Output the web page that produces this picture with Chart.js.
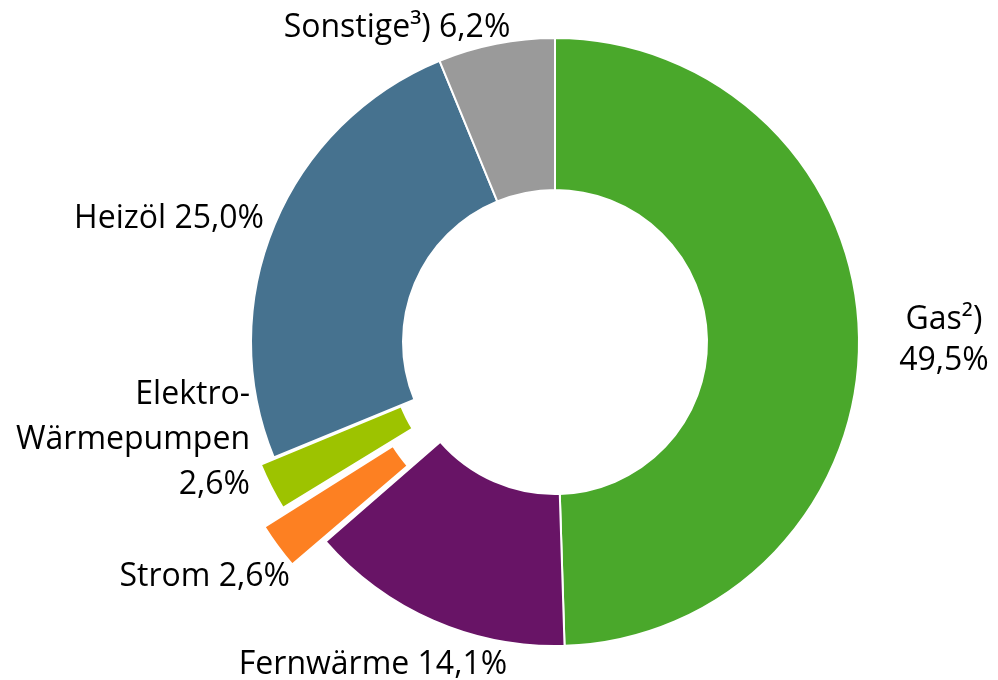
<!DOCTYPE html>
<html>
<head>
<meta charset="utf-8">
<script src="https://cdn.jsdelivr.net/npm/chart.js@4"></script>
<style>
    body { margin: 0; background: #ffffff; }
    #wrap { width: 998px; height: 680px; }
</style>
</head>
<body>
<div id="wrap"><canvas id="heatingChart" width="998" height="680"></canvas></div>
<script>
const categories = ['Gas²)', 'Fernwärme', 'Strom', 'Elektro-\nWärmepumpen', 'Heizöl', 'Sonstige³)'];
const shares = [49.5, 14.1, 2.6, 2.6, 25.0, 6.2];
const sliceColors = ['#4aa82b', '#681466', '#fd8022', '#9dc300', '#46728f', '#9a9a9a'];
const explode = [0, 0, 88, 32, 0, 0];
const valueOnNewLine = [true, false, false, true, false, false];

// where each label sits: x, first baseline, alignment, line step
const labelSpots = [
    { x: 944, y: 329, align: 'center', step: 41 },
    { x: 373, y: 674, align: 'center', step: 44 },
    { x: 290, y: 586, align: 'right', step: 44 },
    { x: 250, y: 404, align: 'right', step: 45 },
    { x: 264, y: 228, align: 'right', step: 44 },
    { x: 397, y: 37, align: 'center', step: 44 }
];

function formatShare(v) {
    return v.toFixed(1).replace('.', ',') + '%';
}

const outsideLabels = {
    id: 'outsideLabels',
    afterDatasetsDraw(chart) {
        const ctx = chart.ctx;
        ctx.save();
        ctx.fillStyle = '#000000';
        ctx.font = '32px "Open Sans"';
        ctx.textBaseline = 'alphabetic';
        categories.forEach((name, i) => {
            const spot = labelSpots[i];
            let lines = name.split('\n');
            if (valueOnNewLine[i]) {
                lines.push(formatShare(shares[i]));
            } else {
                lines[lines.length - 1] += ' ' + formatShare(shares[i]);
            }
            ctx.textAlign = spot.align;
            lines.forEach((line, j) => {
                ctx.fillText(line, spot.x, spot.y + j * spot.step);
            });
        });
        ctx.restore();
    }
};

const ctx = document.getElementById('heatingChart').getContext('2d');
new Chart(ctx, {
    type: 'doughnut',
    data: {
        labels: categories,
        datasets: [{
            data: shares,
            backgroundColor: sliceColors,
            borderColor: '#ffffff',
            borderWidth: 2,
            offset: explode
        }]
    },
    options: {
        responsive: false,
        animation: false,
        radius: 304,
        cutout: '50%',
        layout: {
            padding: { left: 112, right: 0, top: 4, bottom: 0 }
        },
        plugins: {
            legend: { display: false },
            tooltip: { enabled: false }
        }
    },
    plugins: [outsideLabels]
});
</script>
</body>
</html>
